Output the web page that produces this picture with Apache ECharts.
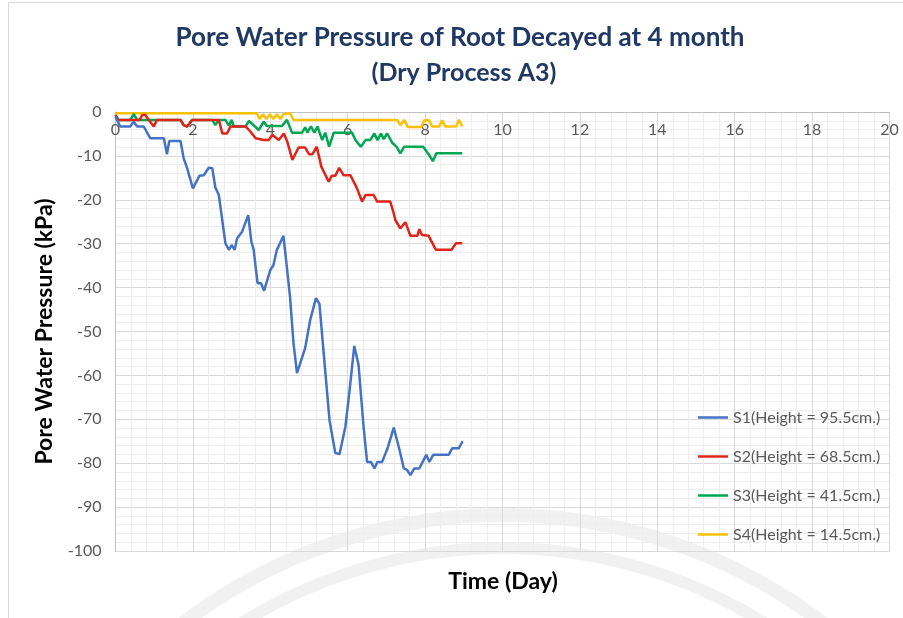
<html>
<head>
    <meta http-equiv="Content-Type" content="text/html; charset=utf-8">
    <title>Pore Water Pressure</title>
    <style>
        body { margin: 0; background: #fff; }
    </style>
</head>
<body>
<div id="main" style="width:903px;height:618px;"></div>
<script type="text/javascript" src="https://cdn.jsdelivr.net/npm/echarts@6/dist/echarts.min.js"></script>
<script type="text/javascript">
// day, kPa pairs
var s1 = [[0,-1.1],[0.12,-3.3],[0.38,-3.3],[0.47,-2.2],[0.56,-3.3],[0.73,-3.3],[0.9,-6.0],[1.25,-6.0],[1.33,-9.6],[1.39,-6.6],[1.68,-6.6],[1.76,-10.5],[1.85,-12.8],[2.0,-17.4],[2.17,-14.5],[2.28,-14.4],[2.41,-12.7],[2.5,-12.8],[2.58,-17.2],[2.67,-18.9],[2.84,-29.9],[2.93,-31.4],[3.0,-30.3],[3.08,-31.4],[3.14,-28.8],[3.27,-27.3],[3.43,-23.5],[3.51,-29.5],[3.57,-31.4],[3.67,-39.0],[3.76,-39.0],[3.84,-40.7],[4.0,-36.0],[4.08,-34.9],[4.17,-31.4],[4.34,-28.2],[4.51,-42.1],[4.6,-52.7],[4.69,-59.5],[4.9,-53.8],[5.03,-47.4],[5.18,-42.4],[5.27,-43.7],[5.38,-55],[5.53,-70.2],[5.68,-77.7],[5.79,-77.9],[5.94,-71.7],[6.05,-63.3],[6.17,-53.3],[6.28,-57.6],[6.41,-71.7],[6.5,-79.7],[6.6,-79.7],[6.69,-81.2],[6.77,-79.7],[6.89,-79.7],[7.03,-76.6],[7.19,-71.9],[7.34,-77],[7.45,-81.2],[7.53,-81.5],[7.62,-82.7],[7.72,-81.2],[7.85,-81.2],[8.03,-78.1],[8.11,-79.7],[8.21,-78.1],[8.61,-78.1],[8.7,-76.6],[8.87,-76.6],[8.97,-75]];
var s2 = [[0,-0.7],[0.06,-1.8],[0.62,-1.8],[0.69,-0.7],[0.77,-0.7],[0.86,-1.8],[0.99,-3.3],[1.07,-1.8],[1.68,-1.8],[1.76,-3.0],[1.85,-3.3],[1.98,-1.8],[2.67,-1.8],[2.76,-4.9],[2.88,-4.9],[2.97,-3.3],[3.36,-3.3],[3.49,-4.5],[3.62,-6.0],[3.83,-6.4],[3.96,-6.4],[4.05,-5.2],[4.22,-6.4],[4.35,-4.9],[4.44,-6.8],[4.57,-10.9],[4.73,-8.1],[4.9,-8.1],[5.0,-9.6],[5.09,-9.6],[5.2,-7.9],[5.32,-12.5],[5.51,-15.9],[5.59,-14.5],[5.68,-14.5],[5.78,-12.7],[5.89,-14.4],[6.07,-14.4],[6.24,-17.4],[6.37,-20.4],[6.46,-18.9],[6.67,-18.9],[6.76,-20.4],[7.1,-20.4],[7.19,-23.1],[7.23,-24.6],[7.36,-26.5],[7.49,-25.1],[7.62,-28.2],[7.8,-28.2],[7.85,-26.7],[7.92,-28.0],[8.09,-28.2],[8.28,-31.4],[8.68,-31.4],[8.8,-29.9],[8.96,-29.9]];
var s3 = [[0,-0.7],[0.08,-1.8],[0.38,-1.8],[0.47,-0.5],[0.56,-1.8],[1.68,-1.8],[1.76,-3.0],[1.85,-3.3],[1.98,-1.8],[2.5,-1.8],[2.58,-3.0],[2.67,-1.8],[2.84,-1.8],[2.93,-3.1],[3.0,-1.8],[3.06,-3.3],[3.36,-3.3],[3.45,-2.0],[3.7,-4.1],[3.83,-2.2],[3.91,-3.2],[4.3,-3.2],[4.43,-1.8],[4.56,-4.7],[4.82,-4.7],[4.9,-3.5],[4.96,-4.7],[5.05,-3.3],[5.14,-4.7],[5.22,-3.3],[5.34,-6.4],[5.42,-4.7],[5.52,-7.9],[5.64,-4.7],[6.11,-4.7],[6.2,-6.4],[6.34,-7.9],[6.46,-6.4],[6.58,-6.4],[6.69,-4.9],[6.77,-6.4],[6.86,-4.9],[6.93,-6.2],[7.02,-4.9],[7.15,-7.0],[7.26,-7.9],[7.36,-9.4],[7.46,-7.9],[7.95,-7.9],[8.09,-9.6],[8.2,-11.2],[8.29,-9.4],[8.96,-9.4]];
var s4 = [[0,-0.3],[3.65,-0.3],[3.72,-1.6],[3.81,-0.5],[3.9,-1.6],[3.99,-0.5],[4.08,-1.6],[4.17,-0.5],[4.26,-1.6],[4.34,-0.5],[4.51,-0.3],[4.6,-1.8],[7.28,-1.8],[7.36,-3.0],[7.46,-1.8],[7.55,-3.4],[7.9,-3.4],[7.98,-1.9],[8.1,-1.9],[8.18,-3.3],[8.36,-3.3],[8.44,-1.9],[8.52,-3.3],[8.8,-3.3],[8.87,-1.8],[8.96,-3.3]];

var seriesNames = ["S1(Height = 95.5cm.)", "S2(Height = 68.5cm.)", "S3(Height = 41.5cm.)", "S4(Height = 14.5cm.)"];
var seriesColors = ["#4472C4", "#E2231A", "#00A651", "#FFC000"];
var seriesData = [s1, s2, s3, s4];

var font = "Lato, 'Open Sans', sans-serif";
var myChart = echarts.init(document.getElementById("main"));

var series = [];
for (var i = 0; i < seriesData.length; i++) {
    series.push({
        name: seriesNames[i],
        type: 'line',
        data: seriesData[i],
        symbol: 'none',
        lineStyle: {width: 2.5, color: seriesColors[i]},
        itemStyle: {color: seriesColors[i]},
        z: 10 - i
    });
}

var option = {
    backgroundColor: '#fff',
    animation: false,
    graphic: [
        {type: 'rect', silent: true, z: -10, shape: {x: 8.5, y: 2.5, width: 900, height: 620}, style: {fill: null, stroke: '#d9d9d9', lineWidth: 1}},
        {type: 'circle', silent: true, z: -10, shape: {cx: 503, cy: 1042, r: 527}, style: {fill: null, stroke: 'rgba(0,0,0,0.055)', lineWidth: 14}},
        {type: 'circle', silent: true, z: -10, shape: {cx: 503, cy: 1040, r: 492}, style: {fill: null, stroke: 'rgba(0,0,0,0.055)', lineWidth: 12}},
        {type: 'text', x: 460, y: 38, z: 20, style: {text: 'Pore Water Pressure of Root Decayed at 4 month', font: 'bold 26px ' + font, fill: '#1F3864', align: 'center', verticalAlign: 'middle'}},
        {type: 'text', x: 464, y: 73, z: 20, style: {text: '(Dry Process A3)', font: 'bold 25px ' + font, fill: '#1F3864', align: 'center', verticalAlign: 'middle'}},
        {type: 'text', x: 503, y: 582, z: 20, style: {text: 'Time (Day)', font: 'bold 23px ' + font, fill: '#000', align: 'center', verticalAlign: 'middle'}}
    ],
    legend: {
        orient: 'vertical',
        left: 693,
        top: 404,
        icon: 'rect',
        itemWidth: 30,
        itemHeight: 2.5,
        itemGap: 22,
        textStyle: {fontSize: 16, lineHeight: 17, color: '#595959', fontFamily: font},
        data: seriesNames
    },
    grid: {left: 115.5, right: 13.5, top: 112, bottom: 67, containLabel: false},
    xAxis: {
        type: 'value',
        position: 'top',
        min: 0,
        max: 20,
        interval: 2,
        axisLine: {show: true, onZero: false, lineStyle: {color: '#bfbfbf', width: 1}},
        axisTick: {show: false},
        axisLabel: {inside: true, margin: 10, fontSize: 16, color: '#595959', fontFamily: font},
        splitLine: {show: true, lineStyle: {color: '#d9d9d9', width: 1}},
        minorTick: {show: false, splitNumber: 5},
        minorSplitLine: {show: true, lineStyle: {color: '#eeeeee', width: 1}}
    },
    yAxis: {
        type: 'value',
        min: -100,
        max: 0,
        interval: 10,
        name: 'Pore Water Pressure (kPa)',
        nameLocation: 'middle',
        nameRotate: 90,
        nameGap: 59,
        nameTextStyle: {fontSize: 23, fontWeight: 'bold', color: '#000', fontFamily: font},
        axisLine: {show: true, lineStyle: {color: '#bfbfbf', width: 1}},
        axisTick: {show: false},
        axisLabel: {margin: 14, fontSize: 16, color: '#595959', fontFamily: font},
        splitLine: {show: true, lineStyle: {color: '#d9d9d9', width: 1}},
        minorTick: {show: false, splitNumber: 5},
        minorSplitLine: {show: true, lineStyle: {color: '#eeeeee', width: 1}}
    },
    series: series
};
myChart.setOption(option);
</script>
</body>
</html>
